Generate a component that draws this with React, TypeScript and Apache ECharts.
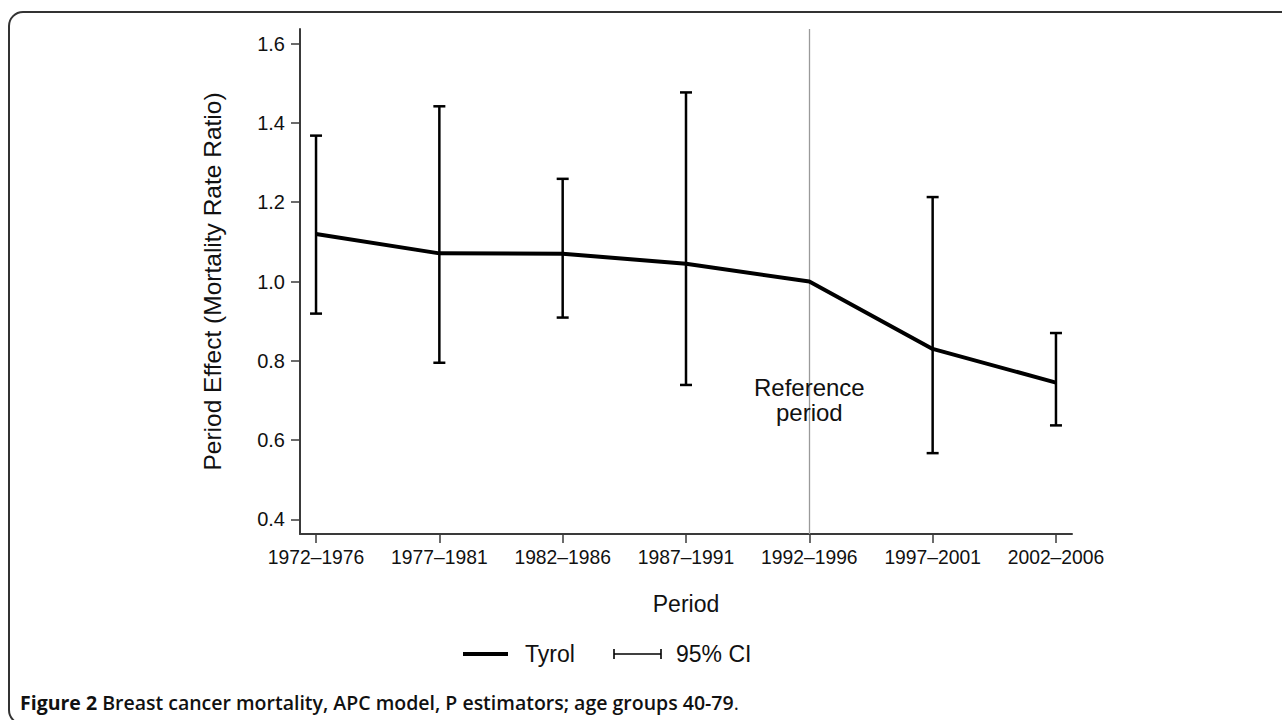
import React, { useEffect, useRef } from "react";
import * as echarts from "echarts";

const periods = ["1972–1976", "1977–1981", "1982–1986", "1987–1991", "1992–1996", "1997–2001", "2002–2006"];
const effect = [1.12, 1.071, 1.07, 1.045, 1.0, 0.83, 0.745];
const ciLower = [0.919, 0.795, 0.909, 0.739, null, 0.567, 0.637];
const ciUpper = [1.368, 1.442, 1.259, 1.477, null, 1.213, 0.87];
const yTicks = [0.4, 0.6, 0.8, 1.0, 1.2, 1.4, 1.6];
const referenceIndex = 4;

const FONT = "'Liberation Sans', Arial, Helvetica, sans-serif";
const CAP = "'Open Sans', 'Noto Sans', sans-serif";

export default function App() {
  const ref = useRef<HTMLDivElement>(null);
  useEffect(() => {
    if (!ref.current) return;
    const chart = echarts.init(ref.current, undefined, { renderer: "svg" });
    const xIdx = periods.map((_, i) => i);
    const lineData = effect.map((v, i) => [i, v]);
    const ciData: any[] = [];
    periods.forEach((_, i) => {
      if (ciLower[i] != null && ciUpper[i] != null) ciData.push([i, ciLower[i], ciUpper[i]]);
    });
    const axisColor = "#3a3a3a";
    chart.setOption({
      animation: false,
      backgroundColor: "#fff",
      grid: { left: 300, top: 29, right: 210, bottom: 186, containLabel: false },
      xAxis: {
        type: "value",
        min: -0.13,
        max: 6.13,
        name: "Period",
        nameLocation: "middle",
        nameGap: 58,
        nameTextStyle: { fontFamily: FONT, fontSize: 23, color: "#111" },
        axisLine: { show: true, onZero: false, lineStyle: { color: axisColor, width: 2 } },
        axisTick: { show: true, length: 9, customValues: xIdx, lineStyle: { color: axisColor, width: 1.5 } },
        axisLabel: {
          customValues: xIdx,
          margin: 14,
          fontFamily: FONT,
          fontSize: 19.3,
          color: "#111",
          formatter: (v: number) => periods[Math.round(v)] ?? "",
        },
        splitLine: { show: false },
      },
      yAxis: {
        type: "value",
        min: 0.363,
        max: 1.637,
        name: "Period Effect (Mortality Rate Ratio)",
        nameLocation: "middle",
        nameGap: 75,
        nameTextStyle: { fontFamily: FONT, fontSize: 24.5, color: "#111" },
        axisLine: { show: true, onZero: false, lineStyle: { color: axisColor, width: 2 } },
        axisTick: { show: true, length: 9, customValues: yTicks, lineStyle: { color: axisColor, width: 1.5 } },
        axisLabel: {
          customValues: yTicks,
          margin: 15,
          fontFamily: FONT,
          fontSize: 20,
          color: "#111",
          formatter: (v: number) => v.toFixed(1),
        },
        splitLine: { show: false },
      },
      series: [
        {
          type: "custom",
          name: "95% CI",
          data: ciData,
          encode: { x: 0, y: [1, 2] },
          renderItem: (params: any, api: any) => {
            const x = api.value(0);
            const lo = api.coord([x, api.value(1)]);
            const hi = api.coord([x, api.value(2)]);
            const hw = 6;
            const st = { stroke: "#000", lineWidth: 2.5 };
            return {
              type: "group",
              children: [
                { type: "line", shape: { x1: lo[0], y1: lo[1], x2: hi[0], y2: hi[1] }, style: st },
                { type: "line", shape: { x1: lo[0] - hw, y1: lo[1], x2: lo[0] + hw, y2: lo[1] }, style: st },
                { type: "line", shape: { x1: hi[0] - hw, y1: hi[1], x2: hi[0] + hw, y2: hi[1] }, style: st },
              ],
            };
          },
          z: 2,
        },
        {
          type: "line",
          name: "Tyrol",
          data: lineData,
          showSymbol: false,
          symbol: "none",
          lineStyle: { color: "#000", width: 4 },
          z: 3,
          markLine: {
            silent: true,
            symbol: "none",
            label: { show: false },
            lineStyle: { color: "#9a9a9a", width: 1.3, type: "solid" },
            data: [{ xAxis: referenceIndex }],
            z: 1,
          },
        },
        {
          type: "custom",
          name: "reference label",
          data: [[referenceIndex, 0.70]],
          renderItem: (params: any, api: any) => {
            const p = api.coord([api.value(0), api.value(1)]);
            return {
              type: "text",
              style: {
                text: "Reference\nperiod",
                x: p[0],
                y: p[1],
                align: "center",
                verticalAlign: "middle",
                fontFamily: FONT,
                fontSize: 24,
                lineHeight: 25,
                fill: "#111",
              },
            };
          },
          z: 4,
        },
      ],
      graphic: [
        {
          type: "rect",
          shape: { x: 9, y: 12, width: 1300, height: 712, r: 14 },
          style: { fill: "none", stroke: "#333", lineWidth: 2 },
          silent: true,
        },
        { type: "line", shape: { x1: 463, y1: 654, x2: 508, y2: 654 }, style: { stroke: "#000", lineWidth: 4 } },
        {
          type: "text",
          style: { text: "Tyrol", x: 525, y: 654, verticalAlign: "middle", fontFamily: FONT, fontSize: 23, fill: "#111" },
        },
        { type: "line", shape: { x1: 614, y1: 654, x2: 661, y2: 654 }, style: { stroke: "#000", lineWidth: 1.6 } },
        { type: "line", shape: { x1: 614, y1: 649, x2: 614, y2: 659 }, style: { stroke: "#000", lineWidth: 1.6 } },
        { type: "line", shape: { x1: 661, y1: 649, x2: 661, y2: 659 }, style: { stroke: "#000", lineWidth: 1.6 } },
        {
          type: "text",
          style: { text: "95% CI", x: 676, y: 654, verticalAlign: "middle", fontFamily: FONT, fontSize: 23, fill: "#111" },
        },
        {
          type: "text",
          style: {
            x: 20,
            y: 702,
            verticalAlign: "middle",
            text: "{b|Figure 2 }{s|Breast cancer mortality, APC model, P estimators; age groups 40-79}{n|.}",
            rich: {
              b: { fontFamily: CAP, fontSize: 19.5, fontWeight: 700, fill: "#111" },
              s: { fontFamily: CAP, fontSize: 19.5, fontWeight: 600, fill: "#111" },
              n: { fontFamily: CAP, fontSize: 19.5, fontWeight: 400, fill: "#111" },
            },
          },
        },
      ],
    });
    return () => chart.dispose();
  }, []);
  return (
    <div
      ref={ref}
      style={{ position: "fixed", left: 0, top: 0, width: 1282, height: 720, background: "#fff" }}
    />
  );
}
